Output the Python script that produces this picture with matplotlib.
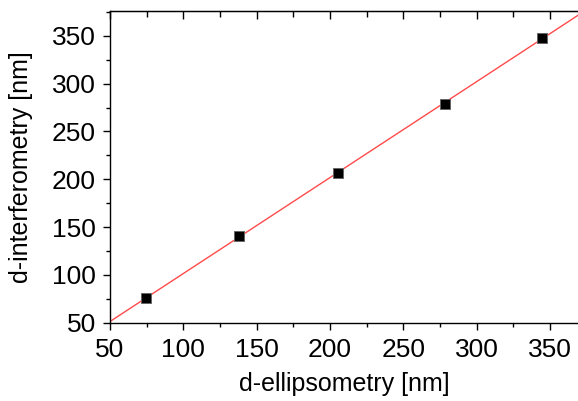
import numpy as np
import matplotlib.pyplot as plt
from matplotlib.ticker import MultipleLocator

plt.rcParams['font.family'] = ['Liberation Sans', 'DejaVu Sans']

# Data
d_ellipsometry = np.array([74.5, 138.0, 205.7, 278.2, 344.3])
d_interferometry = np.array([75.6, 140.9, 206.6, 279.2, 347.7])

# Linear fit
slope, intercept = np.polyfit(d_ellipsometry, d_interferometry, 1)
fit_x = np.array([50, 369])
fit_y = slope * fit_x + intercept

fig = plt.figure(figsize=(5.78, 4.01), dpi=100)
ax = fig.add_axes([110 / 578, 1 - 322.7 / 401, 1 - 110 / 578, (322.7 - 11) / 401])

ax.plot(fit_x, fit_y, color='#ff4a4a', linewidth=1.0, zorder=2)
ax.plot(d_ellipsometry, d_interferometry, 's', color='black', markersize=7,
        markeredgecolor='#666666', markeredgewidth=0.7, zorder=3)

ax.set_xlim(50, 369)
ax.set_ylim(50, 376)
ax.xaxis.set_major_locator(MultipleLocator(50))
ax.xaxis.set_minor_locator(MultipleLocator(25))
ax.yaxis.set_major_locator(MultipleLocator(50))
ax.yaxis.set_minor_locator(MultipleLocator(25))

ax.spines['right'].set_visible(False)
for s in ['left', 'bottom', 'top']:
    ax.spines[s].set_linewidth(1.0)

ax.tick_params(which='major', direction='out', length=5, width=1.0, labelsize=19)
ax.tick_params(axis='y', which='major', pad=5)
ax.tick_params(axis='x', which='major', pad=6)
ax.tick_params(which='minor', direction='out', length=3, width=1.0)

# Top axis ticks pointing inward
top = ax.secondary_xaxis('top')
top.xaxis.set_major_locator(MultipleLocator(50))
top.xaxis.set_minor_locator(MultipleLocator(25))
top.tick_params(which='major', direction='in', length=6, width=1.0, labeltop=False)
top.tick_params(which='minor', direction='in', length=4, width=1.0)

ax.set_xlabel('d-ellipsometry [nm]', fontsize=18, labelpad=7)
ax.set_ylabel('d-interferometry [nm]', fontsize=18, labelpad=14)

fig.savefig('out.png', dpi=100)
